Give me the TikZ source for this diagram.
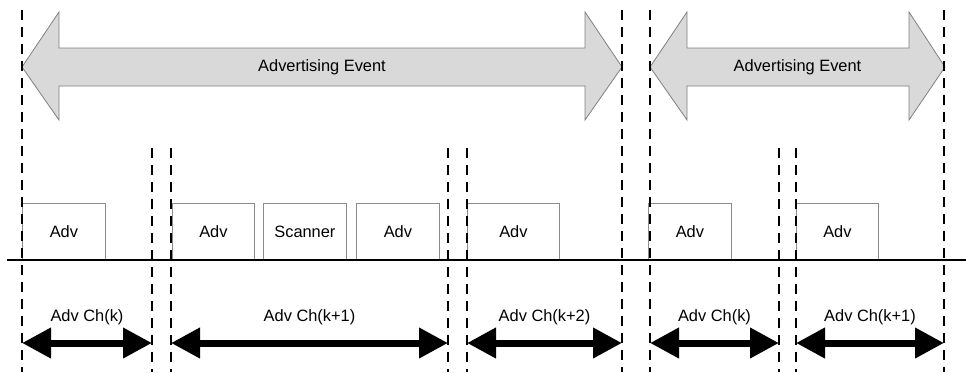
\documentclass[tikz,border=0pt]{standalone}
\usepackage{fontspec}
\setmainfont{Liberation Sans}
\usetikzlibrary{arrows.meta}
\begin{document}
\begin{tikzpicture}[x=1pt,y=-1pt,
  dashline/.style={line width=2.6pt,dash pattern=on 10pt off 7pt},
  bigarrow/.style={fill=black!15,draw=black!50,line width=0.8pt},
  slot/.style={draw=black!45,line width=0.8pt,anchor=south west,minimum height=56pt,inner sep=0pt,font=\fontsize{16.4}{18}\selectfont},
  lbl/.style={font=\fontsize{16.4}{18}\selectfont,inner sep=0pt},
  chan/.style={line width=7pt,{Triangle[length=29pt,width=29pt]}-{Triangle[length=29pt,width=29pt]}}
]
\useasboundingbox (0,0) rectangle (966,372);
% big arrows
\draw[bigarrow] (22,67) -- (59,12) -- (59,48) -- (585,48) -- (585,12) -- (622,67) -- (585,120) -- (585,86) -- (59,86) -- (59,120) -- cycle;
\node[lbl] (ev1) at (322,67) {Advertising Event};
\draw[bigarrow] (650,67) -- (687,12) -- (687,48) -- (909,48) -- (909,12) -- (945,67) -- (909,120) -- (909,86) -- (687,86) -- (687,120) -- cycle;
\node[lbl] (ev2) at (797.5,67) {Advertising Event};
% slots
\node[slot,minimum width=83pt] (s1) at (22,260) {Adv};
\node[slot,minimum width=82pt] (s2) at (172,260) {Adv};
\node[slot,minimum width=83pt] (s3) at (263,260) {Scanner};
\node[slot,minimum width=83pt] (s4) at (356,260) {Adv};
\node[slot,minimum width=92pt] (s5) at (467,260) {Adv};
\node[slot,minimum width=83pt] (s6) at (648,260) {Adv};
\node[slot,minimum width=82pt] (s7) at (796,260) {Adv};
% time axis
\coordinate (ax0) at (7,260);
\coordinate (ax1) at (966,260);
\draw[line width=2.6pt] (ax0) -- (ax1);
% dashed markers
\foreach \n/\x/\t in {a/22/10,b/152/148,c/171/148,d/448/148,e/467/148,f/622/10,g/650/10,h/779/148,i/796/148,j/944/10}{
  \coordinate (\n top) at (\x,\t);
  \coordinate (\n bot) at (\x,372);
  \coordinate (\n arr) at (\x,343);
  \draw[dashline] (\n top) -- (\n bot);
}
% channel arrows
\foreach \p/\q/\txt in {a/b/{Adv Ch(k)},c/d/{Adv Ch(k+1)},e/f/{Adv Ch(k+2)},g/h/{Adv Ch(k)},i/j/{Adv Ch(k+1)}}{
  \draw[chan] (\p arr) -- (\q arr) node[midway,lbl,yshift=26pt] (l\p) {\txt};
}
\end{tikzpicture}
\end{document}
